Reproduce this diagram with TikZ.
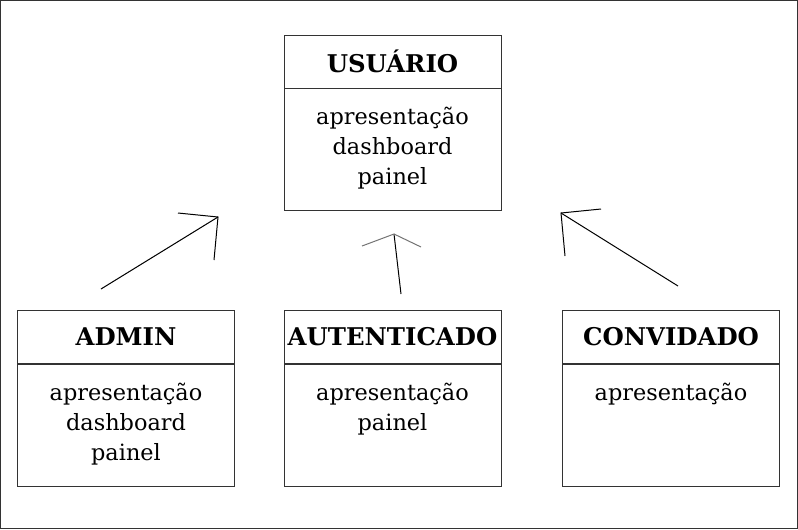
\documentclass[tikz,border=0pt]{standalone}
\usepackage{fontspec}
\setmainfont{DejaVu Serif}
\usetikzlibrary{positioning}

\begin{document}
\begin{tikzpicture}[x=0.75pt, y=-0.75pt]
	\tikzstyle{Titulo}	= [draw=black!80, rectangle, minimum width=163pt, minimum height=40pt, inner sep=0pt, font=\bfseries\fontsize{18.3}{21}\selectfont]
	\tikzstyle{Corpo}	= [draw=black!80, rectangle, minimum width=163pt, minimum height=91.5pt, inner sep=0pt]
	\tikzstyle{Membros}	= [align=center, inner sep=0pt, font=\fontsize{16.8}{22.5}\selectfont]
	\tikzstyle{Seta}	= [line width=0.75pt]

	\useasboundingbox (0,0) rectangle (798,529);
	\draw [black!80] (0.5,0.5) rectangle (797.5,528.5);

	\foreach \n/\x/\y/\t in {usuario/392.5/61.5/USUÁRIO, admin/126/337/ADMIN, aut/392.5/337/AUTENTICADO, conv/671/337/CONVIDADO}
		\node (\n) at (\x, \y) [Titulo] {\t};
	\foreach \n in {usuario, admin, aut, conv}
		\node (\n-c) [Corpo, below=0pt of \n] {};

	\node (usuario-m) [Membros, below=14pt of usuario.south] {apresentação\\dashboard\\painel};
	\node (admin-m) [Membros, below=14pt of admin.south] {apresentação\\dashboard\\painel};
	\node (aut-m) [Membros, below=14pt of aut.south] {apresentação\\painel};
	\node (conv-m) [Membros, below=14pt of conv.south] {apresentação};

	% herança: cauda, ponta e as duas farpas
	\foreach \s/\tx/\ty/\px/\py/\ax/\ay/\bx/\by/\c in {l/101/289/218/217/178/213/214/260/black, m/401/294/394/234/362/246/421/247/black!55, r/678/286/561/213/601/209/565/256/black} {
		\coordinate (\s-tail) at (\tx, \ty);
		\coordinate (\s-tip) at (\px, \py);
		\coordinate (\s-b1) at (\ax, \ay);
		\coordinate (\s-b2) at (\bx, \by);
		\draw [Seta] (\s-tail) -- (\s-tip);
		\draw [Seta, \c] (\s-b1) -- (\s-tip) -- (\s-b2);
	}
\end{tikzpicture}
\end{document}
